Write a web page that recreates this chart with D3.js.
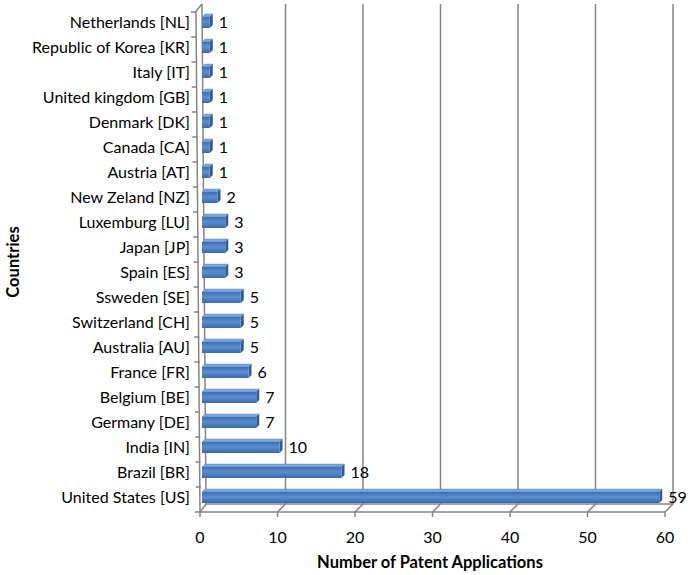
<!DOCTYPE html>
<html>
<head>
<meta charset="utf-8">
<script src="https://cdn.jsdelivr.net/npm/d3@7"></script>
<style>
  body { margin: 0; background: #fff; }
  text { font-family: Lato, "Open Sans", sans-serif; fill: #000; }
</style>
</head>
<body>
<svg width="691" height="575"></svg>
<script>
// categories top to bottom, as in the chart
var countries = ["Netherlands [NL]", "Republic of Korea [KR]", "Italy [IT]", "United kingdom [GB]",
  "Denmark [DK]", "Canada [CA]", "Austria [AT]", "New Zeland [NZ]", "Luxemburg [LU]", "Japan [JP]",
  "Spain [ES]", "Ssweden [SE]", "Switzerland [CH]", "Australia [AU]", "France [FR]", "Belgium [BE]",
  "Germany [DE]", "India [IN]", "Brazil [BR]", "United States [US]"];
var applications = [1, 1, 1, 1, 1, 1, 1, 2, 3, 3, 3, 5, 5, 5, 6, 7, 7, 10, 18, 59];
var xTicks = [0, 10, 20, 30, 40, 50, 60];

var data = countries.map(function(c, i) { return { name: c, value: applications[i] }; });

var svg = d3.select("svg");
// depth offset of the 3d back wall
var dx = 8, dy = -8;

var x = d3.scaleLinear().domain([0, 60]).range([200, 665]);
var y = d3.scaleBand().domain(countries).range([12, 512]);

var defs = svg.append("defs");
var grad = defs.append("linearGradient").attr("id", "barFace").attr("x1", 0).attr("y1", 0).attr("x2", 0).attr("y2", 1);
grad.append("stop").attr("offset", "0%").attr("stop-color", "#3d6dae");
grad.append("stop").attr("offset", "45%").attr("stop-color", "#5b8fd2");
grad.append("stop").attr("offset", "100%").attr("stop-color", "#3a69a8");

var wall = svg.append("g").attr("stroke", "#858585").attr("stroke-width", 1.5).attr("fill", "none");

// gridlines on the back wall
wall.selectAll(".grid").data(xTicks.slice(1)).enter().append("line")
  .attr("x1", function(d) { return x(d) + dx; }).attr("x2", function(d) { return x(d) + dx; })
  .attr("y1", 12 + dy).attr("y2", 512 + dy);

// floor: front edge, back edge and depth lines
wall.append("line").attr("x1", x(0)).attr("x2", x(60)).attr("y1", 512).attr("y2", 512);
wall.append("line").attr("x1", x(0) + 6).attr("x2", x(60) + dx).attr("y1", 512 + dy).attr("y2", 512 + dy);
wall.selectAll(".floor").data(xTicks).enter().append("line")
  .attr("x1", function(d) { return x(d); }).attr("y1", 512)
  .attr("x2", function(d) { return x(d) + (d === 0 ? 6 : dx); }).attr("y2", 512 + dy);
wall.selectAll(".xtick").data(xTicks).enter().append("line")
  .attr("x1", function(d) { return x(d); }).attr("x2", function(d) { return x(d); })
  .attr("y1", 512).attr("y2", 517);

// left wall
wall.append("line").attr("x1", 196).attr("y1", 11).attr("x2", x(0)).attr("y2", 512);
wall.append("line").attr("x1", 202).attr("y1", 4).attr("x2", x(0) + 6).attr("y2", 512 + dy);
wall.append("line").attr("x1", 196).attr("y1", 11).attr("x2", 202).attr("y2", 4);
wall.selectAll(".ytick").data(countries).enter().append("line")
  .attr("x1", function(d) { return 196 + 5 * (y(d) - 11) / 501 - 5; })
  .attr("x2", function(d) { return 196 + 5 * (y(d) - 11) / 501; })
  .attr("y1", function(d) { return y(d); }).attr("y2", function(d) { return y(d); });
wall.append("line").attr("x1", x(0) - 5).attr("x2", x(0)).attr("y1", 512).attr("y2", 512);

// bars
var bh = 11, bd = 3;
var bars = svg.append("g").selectAll(".bar").data(data).enter().append("g").attr("class", "bar");
function yc(d) { return y(d.name) + y.bandwidth() / 2; }
bars.append("path").attr("fill", "#7aa6dc").attr("stroke", "#4a78b4").attr("stroke-width", 0.4)
  .attr("d", function(d) {
    var t = yc(d) - 7.5, x0 = x(0) + 2, x1 = x(d.value) + 2;
    return "M" + x0 + "," + t + "L" + (x0 + bd) + "," + (t - bd) + "L" + (x1 + bd) + "," + (t - bd) + "L" + x1 + "," + t + "Z";
  });
bars.append("path").attr("fill", "#2f5a96")
  .attr("d", function(d) {
    var t = yc(d) - 7.5, x1 = x(d.value) + 2;
    return "M" + x1 + "," + t + "L" + (x1 + bd) + "," + (t - bd) + "L" + (x1 + bd) + "," + (t + bh - bd) + "L" + x1 + "," + (t + bh) + "Z";
  });
bars.append("rect").attr("fill", "url(#barFace)")
  .attr("x", x(0) + 2).attr("y", function(d) { return yc(d) - 7.5; })
  .attr("width", function(d) { return x(d.value) - x(0); }).attr("height", bh);

// value labels
bars.append("text").attr("x", function(d) { return x(d.value) + 11; })
  .attr("y", function(d) { return yc(d) - 2; }).attr("dy", "0.35em")
  .style("font-size", "16px").text(function(d) { return d.value; });

// category labels
svg.append("g").selectAll(".cat").data(countries).enter().append("text")
  .attr("x", 190).attr("y", function(d) { return y(d) + y.bandwidth() / 2 - 2; }).attr("dy", "0.35em")
  .attr("text-anchor", "end").style("font-size", "16px").text(function(d) { return d; });

// x tick labels
svg.append("g").selectAll(".xl").data(xTicks).enter().append("text")
  .attr("x", function(d) { return x(d); }).attr("y", 537).attr("dy", "0.35em")
  .attr("text-anchor", "middle").style("font-size", "16px").text(function(d) { return d; });

// axis titles
svg.append("text").attr("x", 430).attr("y", 562).attr("dy", "0.35em").attr("text-anchor", "middle")
  .style("font-size", "16.5px").style("font-weight", "bold").text("Number of Patent Applications");
svg.append("text").attr("transform", "translate(13,262) rotate(-90)").attr("dy", "0.35em")
  .attr("text-anchor", "middle").style("font-size", "16.5px").style("font-weight", "bold").text("Countries");
</script>
</body>
</html>
